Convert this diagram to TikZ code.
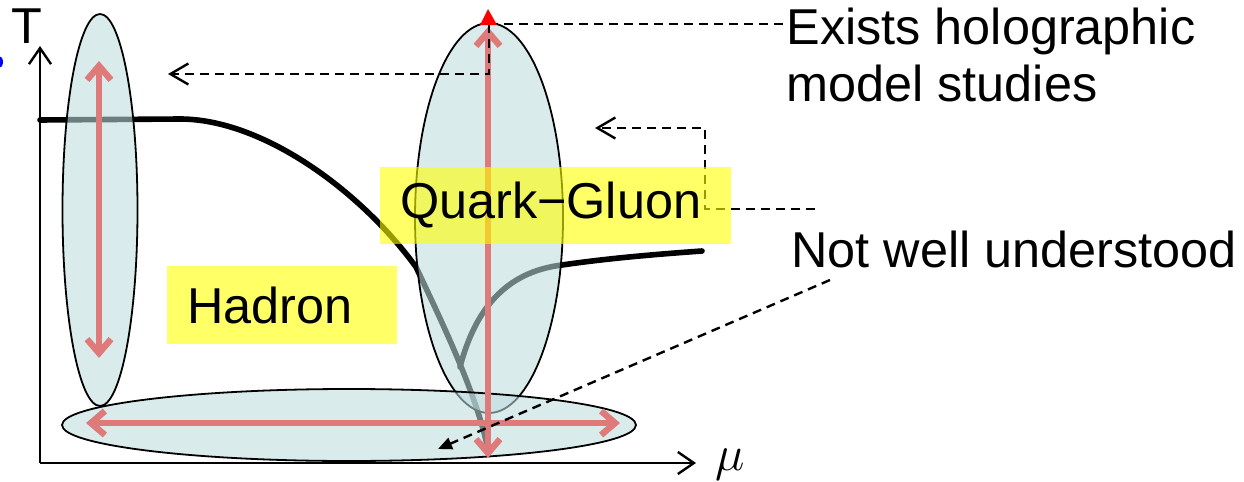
\documentclass[tikz,border=0pt]{standalone}
\usepackage{fontspec}
\setmainfont{Liberation Sans}
\usepackage{tikz}
\usetikzlibrary{arrows.meta, positioning, calc}
\definecolor{ellblue}{RGB}{190,220,222}
\definecolor{softred}{RGB}{222,122,122}
\definecolor{hiyellow}{RGB}{255,255,0}
\tikzset{
  axis/.style={line width=1.2pt, -{Straight Barb[length=8pt,width=11pt]}},
  phase/.style={line width=2.8pt, line cap=round},
  region/.style={draw=black, line width=0.9pt, fill=ellblue, fill opacity=0.57},
  rangearrow/.style={softred, line width=3.2pt, line cap=round,
    {Straight Barb[length=7pt,width=12pt]}-{Straight Barb[length=7pt,width=12pt]}},
  leader/.style={line width=1.2pt, dash pattern=on 4.5pt off 3pt},
  hilite/.style={fill=hiyellow, fill opacity=0.6, text opacity=1, inner ysep=0pt,
    inner xsep=10pt, align=left, font=\fontsize{25.2}{28.5}\selectfont},
  lbl/.style={inner sep=0pt, font=\fontsize{25.2}{28.5}\selectfont}
}

\begin{document}
\begin{tikzpicture}[x=0.5pt, y=-0.5pt]
  \useasboundingbox (0,0) rectangle (1244,482);

  % axes
  \coordinate (origin) at (40,463);
  \draw[axis] (origin) -- (40,46);
  \draw[axis] (origin) -- (696,463);
  \node[lbl, anchor=base] (tlabel) at (27,43) {T};
  \node[inner sep=0pt, anchor=base west, font=\fontsize{29}{30}\selectfont]
    (mulabel) at (715,470) {$\mu$};
  \fill[blue] (-1,62) ellipse [x radius=4, y radius=6];

  % phase boundary
  \draw[phase]
    (40,120) -- (180,119) .. controls (262,119) and (360,190) .. (416,267)
    .. controls (440,318) and (475,390) .. (487,445);
  \draw[phase]
    (460,367) .. controls (475,310) and (505,272) .. (562,265)
    .. controls (610,258) and (660,254) .. (702,251);

  % studied regions
  \draw[region] (100,210) ellipse [x radius=37.5, y radius=196];
  \draw[region] (489,218) ellipse [x radius=74, y radius=195];
  \draw[region] (349,425) ellipse [x radius=287, y radius=36];

  \draw[rangearrow] (99,61) -- (99,358);
  \draw[rangearrow] (86,423) -- (620,423);
  \draw[rangearrow] (488,458) -- (488,27);

  % leaders
  \coordinate (qtop) at (489,24);
  \coordinate (hadtip) at (168,74);
  \coordinate (qgstart) at (815,209);
  \coordinate (qgbend) at (705,209);
  \coordinate (qgtip) at (595,128);
  \coordinate (nwstart) at (830,280);
  \coordinate (nwtip) at (438,449);

  \node[lbl, anchor=north west, align=left] (exists) at (786,8)
    {Exists holographic\\model studies};
  \node[lbl, anchor=base west] (notwell) at (791,267) {Not well understood};

  \draw[leader] (qtop) -- (qtop -| exists.west);
  \draw[leader, -{Straight Barb[length=9pt,width=10.5pt]}] (qtop) |- (hadtip);
  \draw[leader, -{Straight Barb[length=9pt,width=10.5pt]}]
    (qgstart) -- (qgbend) |- (qgtip);
  \draw[leader, -{Triangle[length=7pt,width=6pt]}] (nwstart) -- (nwtip);

  % phases
  \node[hilite, minimum width=175.5pt, minimum height=38.5pt, text width=155.5pt]
    (qg) at (555.5,205) {Quark−Gluon};
  \node[hilite, minimum width=115pt, minimum height=39pt, text width=95pt]
    (hadron) at (282,305) {Hadron};

  \fill[red] (480,25) -- (488,9) -- (497,25) -- cycle;
\end{tikzpicture}
\end{document}
